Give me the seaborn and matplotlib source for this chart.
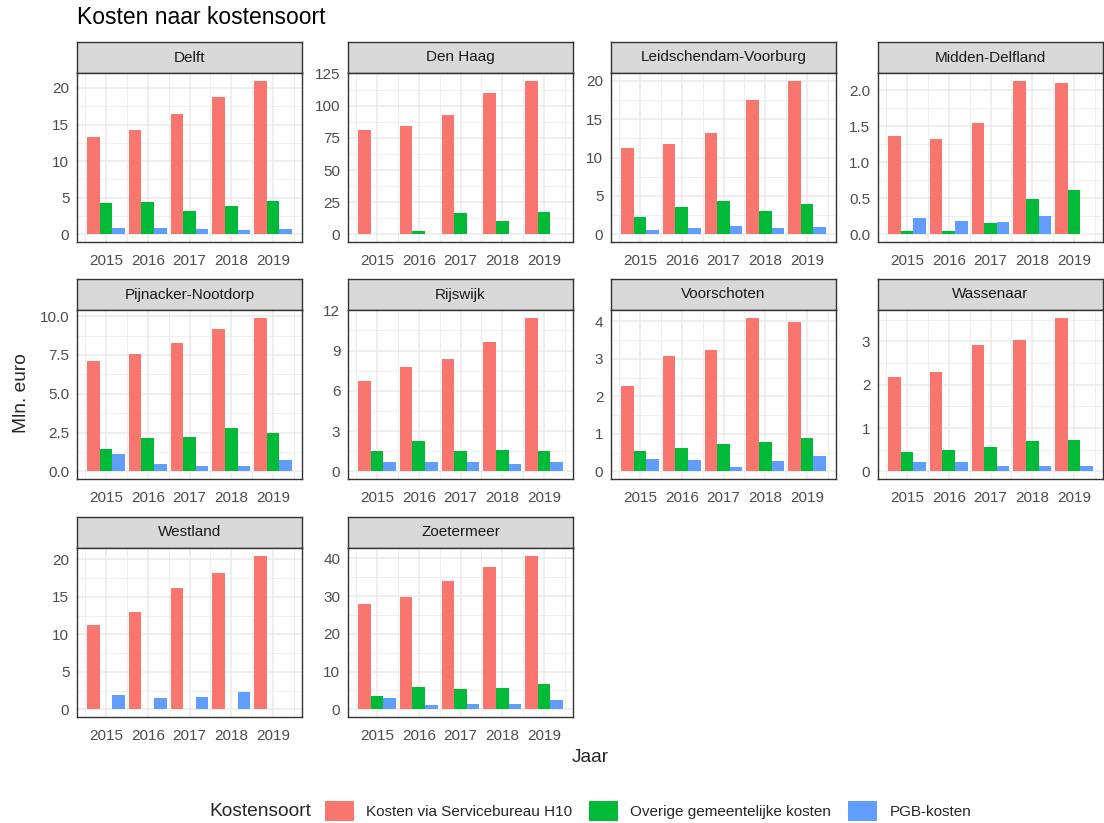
import numpy as np
import pandas as pd
import matplotlib
matplotlib.use("Agg")
import matplotlib.pyplot as plt
from matplotlib.patches import Patch
from matplotlib.ticker import MultipleLocator
import seaborn as sns

# ---- data (mln. euro) ----
years = [2015, 2016, 2017, 2018, 2019]
kostensoorten = ["Kosten via Servicebureau H10", "Overige gemeentelijke kosten", "PGB-kosten"]
gemeenten = ["Delft", "Den Haag", "Leidschendam-Voorburg", "Midden-Delfland",
             "Pijnacker-Nootdorp", "Rijswijk", "Voorschoten", "Wassenaar",
             "Westland", "Zoetermeer"]

servicebureau_h10 = {
    "Delft": [13.3, 14.2, 16.5, 18.8, 21.0],
    "Den Haag": [81.5, 84.3, 93.0, 110.3, 119.6],
    "Leidschendam-Voorburg": [11.3, 11.8, 13.2, 17.5, 20.0],
    "Midden-Delfland": [1.36, 1.32, 1.54, 2.13, 2.10],
    "Pijnacker-Nootdorp": [7.1, 7.55, 8.25, 9.15, 9.9],
    "Rijswijk": [6.7, 7.75, 8.4, 9.65, 11.45],
    "Voorschoten": [2.27, 3.07, 3.25, 4.10, 3.99],
    "Wassenaar": [2.17, 2.29, 2.93, 3.03, 3.55],
    "Westland": [11.2, 13.0, 16.2, 18.2, 20.5],
    "Zoetermeer": [28.0, 29.8, 34.1, 37.6, 40.7],
}
overige_kosten = {
    "Delft": [4.3, 4.4, 3.2, 3.9, 4.5],
    "Den Haag": [0.5, 2.5, 16.5, 10.5, 17.0],
    "Leidschendam-Voorburg": [2.2, 3.6, 4.4, 3.1, 4.0],
    "Midden-Delfland": [0.05, 0.05, 0.15, 0.49, 0.62],
    "Pijnacker-Nootdorp": [1.45, 2.15, 2.2, 2.8, 2.5],
    "Rijswijk": [1.55, 2.25, 1.5, 1.6, 1.55],
    "Voorschoten": [0.55, 0.62, 0.72, 0.78, 0.89],
    "Wassenaar": [0.45, 0.50, 0.57, 0.69, 0.73],
    "Westland": [np.nan, np.nan, np.nan, np.nan, np.nan],
    "Zoetermeer": [3.4, 5.9, 5.4, 5.7, 6.8],
}
pgb_kosten = {
    "Delft": [0.8, 0.8, 0.7, 0.6, 0.7],
    "Den Haag": [0.1, 0.1, 0.1, 0.1, 0.5],
    "Leidschendam-Voorburg": [0.6, 0.8, 1.1, 0.8, 0.9],
    "Midden-Delfland": [0.23, 0.19, 0.17, 0.25, np.nan],
    "Pijnacker-Nootdorp": [1.1, 0.45, 0.35, 0.35, 0.7],
    "Rijswijk": [0.7, 0.7, 0.7, 0.55, 0.7],
    "Voorschoten": [0.32, 0.30, 0.11, 0.28, 0.41],
    "Wassenaar": [0.21, 0.21, 0.13, 0.13, 0.13],
    "Westland": [1.9, 1.5, 1.6, 2.3, np.nan],
    "Zoetermeer": [2.9, 1.1, 1.3, 1.5, 2.4],
}
y_breaks = {
    "Delft": 5, "Den Haag": 25, "Leidschendam-Voorburg": 5, "Midden-Delfland": 0.5,
    "Pijnacker-Nootdorp": 2.5, "Rijswijk": 3, "Voorschoten": 1, "Wassenaar": 1,
    "Westland": 5, "Zoetermeer": 10,
}
y_decimals = {"Midden-Delfland": 1, "Pijnacker-Nootdorp": 1}

palette = ["#F8766D", "#00BA38", "#619CFF"]

rows = []
for g in gemeenten:
    for soort, series in zip(kostensoorten, [servicebureau_h10, overige_kosten, pgb_kosten]):
        for j, v in zip(years, series[g]):
            rows.append({"Gemeente": g, "Jaar": j, "Kostensoort": soort, "Waarde": v})
df = pd.DataFrame(rows)

# ---- figure ----
sns.set_theme(style="white")
plt.rcParams["font.family"] = ["Liberation Sans", "DejaVu Sans"]

W, H = 1104, 823
fig = plt.figure(figsize=(W / 100, H / 100), dpi=100)

col_left = [77, 348, 611, 878]
panel_w = 225
strip_top = [42, 279, 517]
strip_h = 31
panel_h = 169

grey20 = "#333333"
grid_col = "#EBEBEB"
text_col = "#4D4D4D"


def px_axes(x, y, w, h):
    return fig.add_axes([x / W, 1 - (y + h) / H, w / W, h / H])


for i, g in enumerate(gemeenten):
    r, c = divmod(i, 4)
    x0 = col_left[c]
    y0 = strip_top[r]

    # strip with municipality name
    sax = px_axes(x0, y0, panel_w, strip_h)
    sax.set_facecolor("#D9D9D9")
    sax.set_xticks([])
    sax.set_yticks([])
    for sp in sax.spines.values():
        sp.set_color(grey20)
        sp.set_linewidth(1.0)
    sax.text(0.5, 0.5, g, ha="center", va="center", fontsize=11,
             color="#1A1A1A", transform=sax.transAxes)

    ax = px_axes(x0, y0 + strip_h, panel_w, panel_h)
    sub = df[df["Gemeente"] == g]
    sns.barplot(data=sub, x="Jaar", y="Waarde", hue="Kostensoort",
                hue_order=kostensoorten, palette=palette, native_scale=True,
                width=0.9, errorbar=None, legend=False, linewidth=0,
                saturation=1, ax=ax, zorder=3)

    ymax = np.nanmax(sub["Waarde"].values)
    ax.set_ylim(-0.05 * ymax, 1.05 * ymax)
    ax.set_xlim(2014.305, 2019.695)

    step = y_breaks[g]
    ax.yaxis.set_major_locator(MultipleLocator(step))
    ax.yaxis.set_minor_locator(MultipleLocator(step / 2))
    ax.set_xticks(years)
    ax.set_xticks([y - 0.5 for y in years] + [years[-1] + 0.5], minor=True)
    dec = y_decimals.get(g, 0)
    ax.set_xticklabels([str(y) for y in years])
    ax.yaxis.set_major_formatter(plt.FuncFormatter(lambda v, p, d=dec: f"{v:.{d}f}"))

    ax.set_axisbelow(True)
    ax.grid(which="major", color=grid_col, linewidth=1.1)
    ax.grid(which="minor", color=grid_col, linewidth=0.55)
    ax.tick_params(which="major", length=3.5, width=1.0, color=grey20,
                   labelsize=11, labelcolor=text_col, pad=2)
    ax.tick_params(which="minor", length=0)
    ax.tick_params(axis="x", pad=5)
    for sp in ax.spines.values():
        sp.set_color(grey20)
        sp.set_linewidth(1.0)
        sp.set_visible(True)
    ax.set_xlabel("")
    ax.set_ylabel("")
    ax.set_facecolor("white")

# titles
fig.text(77 / W, 1 - 18 / H, "Kosten naar kostensoort", fontsize=16.5,
         ha="left", va="center", color="black")
fig.text(590 / W, 1 - 757 / H, "Jaar", fontsize=13.75, ha="center", va="center")
fig.text(22 / W, 1 - 393 / H, "Mln. euro", fontsize=13.75, ha="center",
         va="center", rotation=90)

# legend at the bottom
fig.text(209 / W, 1 - 812 / H, "Kostensoort", fontsize=13.75, ha="left", va="center")
handles = [Patch(facecolor=c, edgecolor="none") for c in palette]
fig.legend(handles, kostensoorten, loc="center left",
           bbox_to_anchor=(325 / W, 1 - 811 / H), ncol=3, frameon=False,
           fontsize=11, handlelength=1.9, handleheight=1.6,
           handletextpad=0.8, columnspacing=1.1, borderaxespad=0, borderpad=0)

fig.savefig("out.png", dpi=100, facecolor="white")
